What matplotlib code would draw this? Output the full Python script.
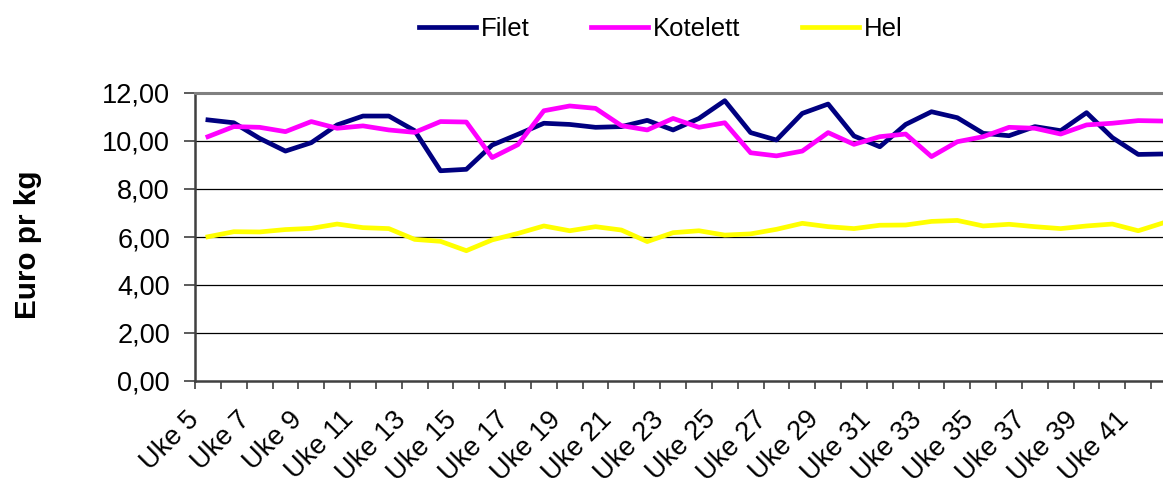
import matplotlib
matplotlib.use("Agg")
import matplotlib.pyplot as plt
from matplotlib.transforms import ScaledTranslation
import numpy as np

weeks = [f"Uke {w}" for w in range(5, 43)]
filet = [10.88, 10.76, 10.11, 9.58, 9.93, 10.67, 11.04, 11.04, 10.43, 8.76,
         8.82, 9.83, 10.28, 10.74, 10.69, 10.57, 10.60, 10.86, 10.46, 10.94,
         11.68, 10.35, 10.04, 11.15, 11.54, 10.21, 9.76, 10.69, 11.22, 10.97,
         10.32, 10.22, 10.60, 10.43, 11.18, 10.14, 9.44, 9.46]
kotelett = [10.18, 10.60, 10.57, 10.39, 10.81, 10.53, 10.63, 10.46, 10.36, 10.81,
            10.79, 9.31, 9.85, 11.26, 11.46, 11.36, 10.64, 10.46, 10.94, 10.57,
            10.76, 9.51, 9.38, 9.58, 10.35, 9.86, 10.18, 10.29, 9.35, 9.97,
            10.18, 10.57, 10.53, 10.29, 10.67, 10.74, 10.85, 10.83]
hel = [6.01, 6.22, 6.21, 6.31, 6.36, 6.54, 6.39, 6.35, 5.90, 5.82,
       5.43, 5.88, 6.15, 6.46, 6.26, 6.43, 6.29, 5.81, 6.18, 6.26,
       6.08, 6.13, 6.32, 6.57, 6.43, 6.35, 6.49, 6.50, 6.65, 6.69,
       6.46, 6.53, 6.43, 6.35, 6.46, 6.54, 6.26, 6.60]
y_ticks = [0, 2, 4, 6, 8, 10, 12]
y_labels = ["0,00", "2,00", "4,00", "6,00", "8,00", "10,00", "12,00"]

plt.rcParams['font.family'] = ['Liberation Sans', 'DejaVu Sans']
FS = 19.5

W, H = 1163, 478
fig = plt.figure(figsize=(W / 100, H / 100), dpi=100)
left, right, top, bottom = 195, 1177, 93, 381
ax = fig.add_axes([left / W, 1 - bottom / H, (right - left) / W, (bottom - top) / H])

x = np.arange(len(weeks))
ax.plot(x, filet, color='#000080', lw=3.4, label='Filet')
ax.plot(x, kotelett, color='#FF00FF', lw=3.4, label='Kotelett')
ax.plot(x, hel, color='#FFFF00', lw=3.4, label='Hel')

ax.set_xlim(-0.5, len(weeks) - 0.5)
ax.set_ylim(0, 12)
ax.set_yticks(y_ticks)
ax.set_yticklabels(y_labels, fontsize=FS)
for yv in y_ticks[1:-1]:
    ax.axhline(yv, color='#000000', lw=0.9, zorder=0)

ax.set_xticks(x[::2])
ax.set_xticklabels(weeks[::2], fontsize=FS, rotation=45, ha='right', va='center',
                   rotation_mode='anchor')
ax.set_xticks(np.arange(len(weeks) + 1) - 0.5, minor=True)
ax.tick_params(axis='x', which='major', length=0, pad=25)
ax.tick_params(axis='x', which='minor', length=6, width=1.2, color='#404040', direction='out')
ax.tick_params(axis='y', length=8, width=1.2, color='#404040', direction='out', pad=10)
off = ScaledTranslation(-13 / 100, 0, fig.dpi_scale_trans)
for lab in ax.get_xticklabels():
    lab.set_transform(lab.get_transform() + off)

for s in ['left', 'bottom']:
    ax.spines[s].set_color('#404040')
    ax.spines[s].set_linewidth(1.8)
ax.spines['top'].set_color('#808080')
ax.spines['top'].set_linewidth(2.2)
ax.spines['right'].set_visible(False)

ax.set_ylabel('Euro pr kg', fontsize=21.3, fontweight='bold', va='center')
ax.yaxis.set_label_coords((28 - left) / (right - left), (bottom - 245) / (bottom - top))

fig.legend(loc='center', bbox_to_anchor=(661 / W, 1 - 29 / H), ncol=3, frameon=False,
           fontsize=18.5, handlelength=2.2, handletextpad=0.2, columnspacing=2.4)

fig.savefig('out.png', dpi=100)
